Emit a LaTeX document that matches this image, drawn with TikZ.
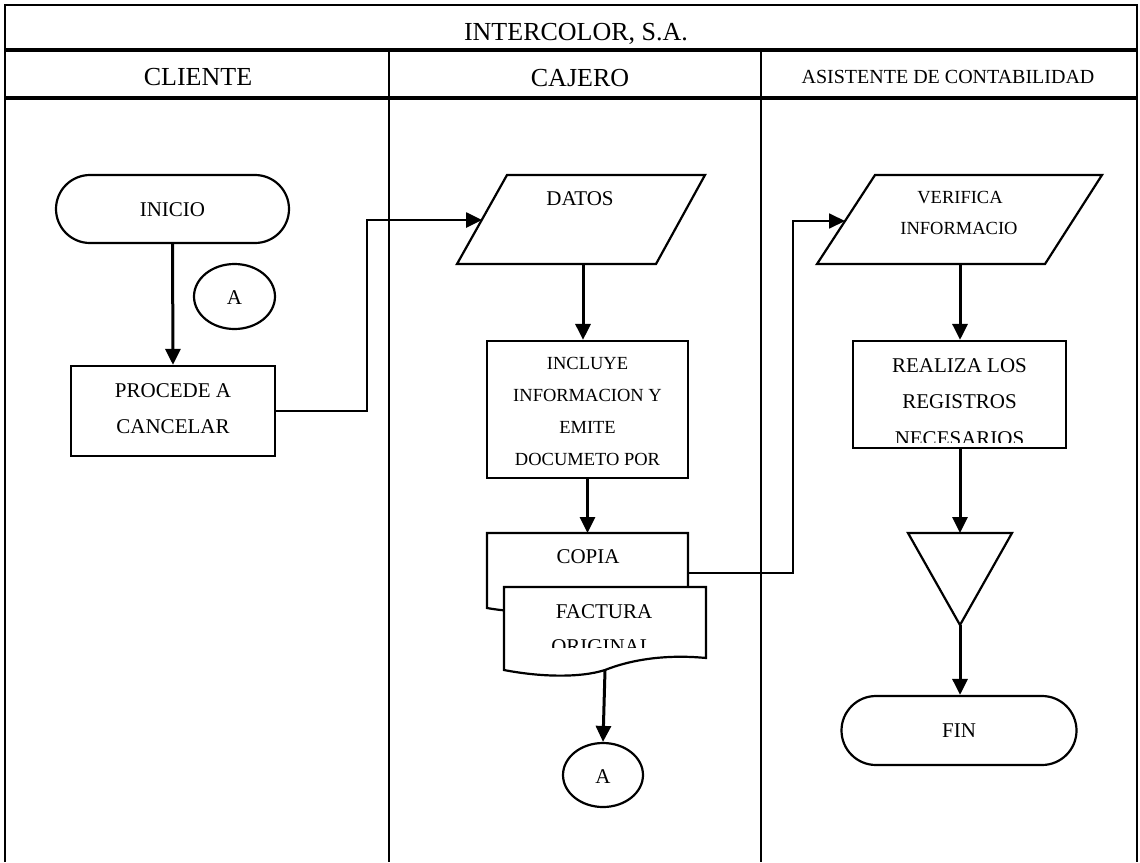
\documentclass[tikz,border=0pt]{standalone}
\usepackage{fontspec}
\setmainfont{Liberation Serif}
\usetikzlibrary{arrows.meta,shapes.misc,shapes.geometric}

\tikzset{
  boxline/.style={draw, line width=2.2pt, fill=white},
  procbox/.style={boxline, rectangle, inner sep=0pt},
  termbox/.style={boxline, rounded rectangle, inner sep=0pt},
  connbox/.style={boxline, ellipse, inner sep=0pt},
  flow/.style={line width=3pt, -{Triangle[length=16pt,width=15pt]}},
  thinflow/.style={line width=1.8pt, -{Triangle[length=16pt,width=15pt]}},
  lbl/.style={inner sep=0pt, anchor=base, font=\fontsize{21}{25}\selectfont},
  lblsmall/.style={lbl, font=\fontsize{18.5}{22}\selectfont},
  headtxt/.style={inner sep=0pt, anchor=base, font=\fontsize{26}{30}\selectfont},
  lanehead/.style={inner sep=0pt, anchor=base, font=\fontsize{20}{24}\selectfont},
  laneline/.style={line width=1.6pt},
  rowline/.style={line width=3.4pt},
  frameline/.style={line width=2.4pt},
}

\begin{document}
\begin{tikzpicture}[x=1pt,y=-1pt]
\useasboundingbox (0,0) rectangle (1140,862);

% ---- swimlane table ----
\draw[frameline] (5,862) -- (5,5) -- (1137,5) -- (1137,862);
\draw[rowline] (5,50) -- (1137,50);
\draw[rowline] (5,98) -- (1137,98);
\draw[laneline] (389,50) -- (389,862);
\draw[laneline] (761,50) -- (761,862);

\node[headtxt] (title) at (576,40) {INTERCOLOR, S.A.};
\node[headtxt] (laneA) at (198,85) {CLIENTE};
\node[headtxt] (laneB) at (580,86) {CAJERO};
\node[lanehead] (laneC) at (948,83) {ASISTENTE DE CONTABILIDAD};

% ---- CLIENTE lane ----
\node[termbox, minimum width=233pt, minimum height=68pt] (inicio) at (172.5,209) {};
\node[lbl] (inicioT) at (172.5,216) {INICIO};

\node[connbox, minimum width=81pt, minimum height=65pt] (conA) at (234.5,296.5) {};
\node[lbl] (conAT) at (234.5,304) {A};

\node[procbox, minimum width=204pt, minimum height=90pt] (procede) at (173,411) {};
\node[lbl] (procT1) at (173,397) {PROCEDE A};
\node[lbl] (procT2) at (173,433) {CANCELAR};

% ---- CAJERO lane ----
\draw[boxline] (457,264) -- (656,264) -- (705,175) -- (507,175) -- cycle;
\coordinate (datosIn) at (482,220);
\coordinate (datosOut) at (583,264);
\node[lbl] (datosT) at (580,205) {DATOS};

\node[procbox, minimum width=201pt, minimum height=137pt] (incluye) at (587.5,409.5) {};
\node[lblsmall] (inclT1) at (587.5,369) {INCLUYE};
\node[lblsmall] (inclT2) at (587.5,401) {INFORMACION Y};
\node[lblsmall] (inclT3) at (587.5,433) {EMITE};
\node[lblsmall] (inclT4) at (587.5,465) {DOCUMETO POR};

% copy sheet behind the original
\draw[boxline] (487,533) -- (688,533) -- (688,596)
  .. controls (650,592) and (620,596) .. (590,604)
  .. controls (560,612) and (520,614) .. (487,608) -- cycle;
\coordinate (copiaTop) at (587.5,533);
\coordinate (copiaR) at (688,573);
\node[lbl] (copiaT) at (588,563) {COPIA};

% original invoice sheet
\draw[boxline] (504,587) -- (706,587) -- (706,658)
  .. controls (665,654) and (630,660) .. (605,670)
  .. controls (580,678) and (540,677) .. (504,670) -- cycle;
\coordinate (factOut) at (605,670);
\node[lbl] (factT1) at (604,618) {FACTURA};
\begin{scope}
  \clip (506,589) rectangle (704,647);
  \node[lbl] (factT2) at (602,653) {ORIGINAL};
\end{scope}

\node[connbox, minimum width=80pt, minimum height=64pt] (conB) at (603,775) {};
\node[lbl] (conBT) at (603,783) {A};

% ---- ASISTENTE DE CONTABILIDAD lane ----
\draw[boxline] (817,264) -- (1045,264) -- (1102,175) -- (875,175) -- cycle;
\coordinate (verifIn) at (845,221);
\coordinate (verifOut) at (960,264);
\node[lblsmall] (verifT1) at (960,203) {VERIFICA};
\node[lblsmall] (verifT2) at (959,234) {INFORMACIO};

\node[procbox, minimum width=213pt, minimum height=107pt] (realiza) at (959.5,394.5) {};
\node[lbl] (realT1) at (959.5,372) {REALIZA LOS};
\node[lbl] (realT2) at (959.5,408) {REGISTROS};
\begin{scope}
  \clip (855,343) rectangle (1064,442);
  \node[lbl] (realT3) at (959.5,445) {NECESARIOS};
\end{scope}

\draw[boxline] (908,533) -- (1012,533) -- (960,625) -- cycle;
\coordinate (triTop) at (960,533);
\coordinate (triTip) at (960,625);

\node[termbox, minimum width=235pt, minimum height=69pt] (fin) at (959,730.5) {};
\node[lbl] (finT) at (959,737) {FIN};

% ---- connectors ----
\draw[flow] (inicio.south) -- (procede.north);
\draw[flow, line width=2.6pt] (procede.east) -- ++(91,0) |- (datosIn);
\draw[flow] (datosOut) -- (datosOut |- incluye.north);
\draw[flow] (incluye.south) -- (copiaTop);
\draw[thinflow] (copiaR) -- ++(105,0) |- (verifIn);
\draw[flow] (factOut) -- (conB.north);
\draw[flow] (verifOut) -- (verifOut |- realiza.north);
\draw[flow] (realiza.south -| triTop) -- (triTop);
\draw[flow] (triTip) -- (fin.north -| triTip);
\end{tikzpicture}
\end{document}
